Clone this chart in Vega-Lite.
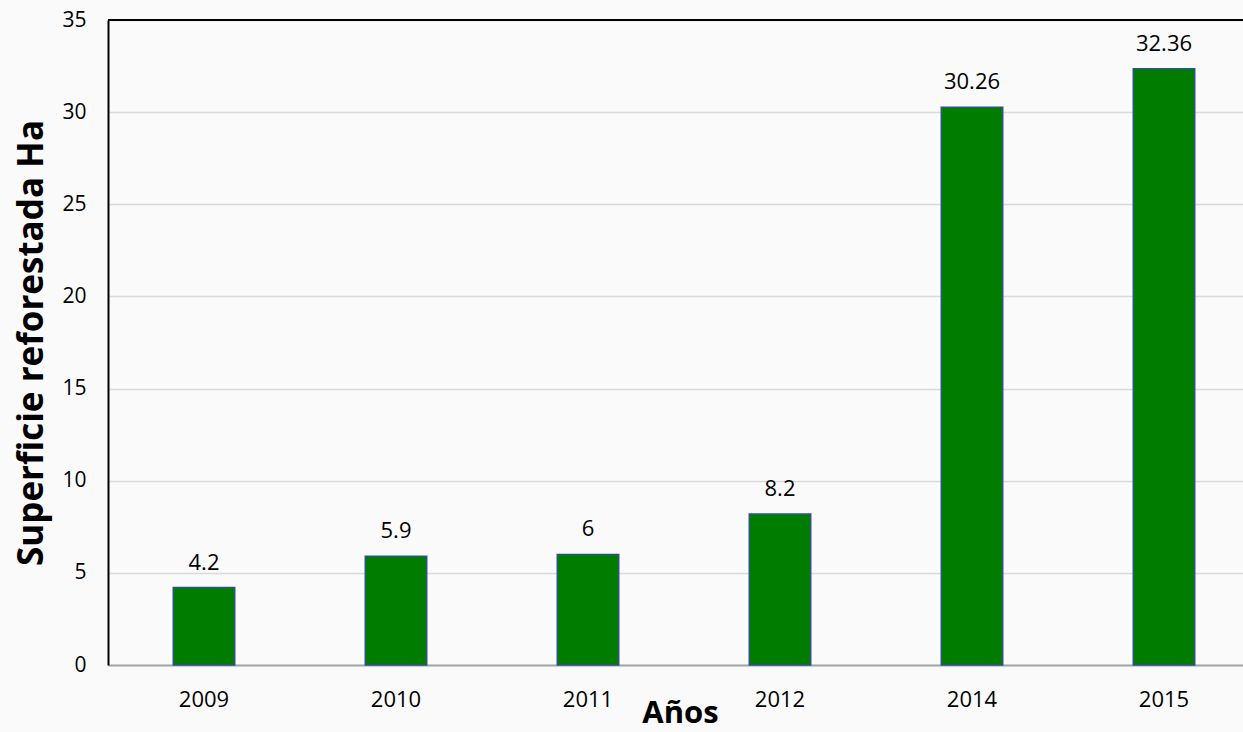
{
  "$schema": "https://vega.github.io/schema/vega-lite/v6.json",
  "autosize": {"type": "none"},
  "width": 1152,
  "height": 645,
  "padding": {"left": 108, "top": 20, "right": 0, "bottom": 67},
  "background": "#fafafa",
  "config": {
    "font": "Open Sans",
    "view": {"stroke": null},
    "axis": {"labelFont": "Open Sans", "titleFont": "Open Sans", "labelColor": "#000000", "titleColor": "#000000"}
  },
  "data": {
    "values": [
      {"year": "2009", "value": 4.2},
      {"year": "2010", "value": 5.9},
      {"year": "2011", "value": 6},
      {"year": "2012", "value": 8.2},
      {"year": "2014", "value": 30.26},
      {"year": "2015", "value": 32.36}
    ]
  },
  "encoding": {
    "x": {
      "field": "year",
      "type": "nominal",
      "scale": {"paddingInner": 0.68, "paddingOuter": 0.34},
      "axis": {
        "title": "Años",
        "titleFontSize": 31,
        "titleFontWeight": "bold",
        "titleX": 572,
        "titleY": 57,
        "titleBaseline": "alphabetic",
        "labelAngle": 0,
        "labelFontSize": 22,
        "labelPadding": 24,
        "ticks": false,
        "domainColor": "#a6a6a6",
        "domainWidth": 2
      }
    },
    "y": {
      "field": "value",
      "type": "quantitative",
      "scale": {"domain": [0, 35], "nice": false},
      "axis": {
        "title": "Superficie reforestada Ha",
        "titleFontSize": 35,
        "titleFontWeight": "bold",
        "titlePadding": 12,
        "values": [0, 5, 10, 15, 20, 25, 30, 35],
        "labelFontSize": 21,
        "labelPadding": 22,
        "ticks": false,
        "domainColor": "#000000",
        "domainWidth": 2,
        "gridColor": "#d9d9d9",
        "gridWidth": 1.5
      }
    }
  },
  "layer": [
    {
      "mark": {"type": "bar", "color": "#007d00", "stroke": "#2f528f", "strokeWidth": 1.5}
    },
    {
      "mark": {"type": "text", "baseline": "alphabetic", "dy": -18, "fontSize": 22, "color": "#000000"},
      "encoding": {"text": {"field": "value", "type": "quantitative"}}
    },
    {
      "mark": {"type": "rule", "color": "#000000", "strokeWidth": 2},
      "encoding": {"y": {"datum": 35}, "x": null}
    }
  ]
}
